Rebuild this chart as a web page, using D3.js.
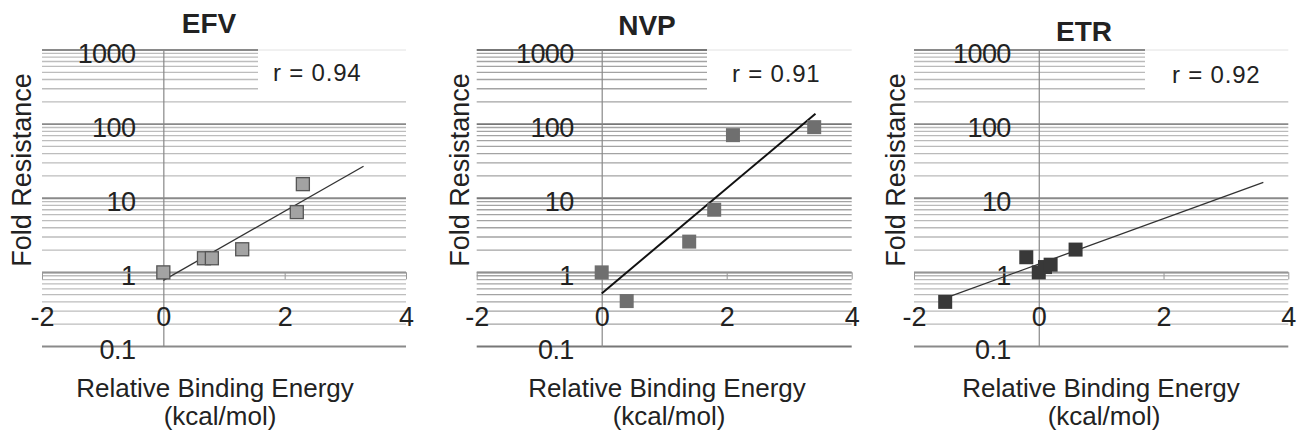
<!DOCTYPE html>
<html>
<head>
<meta charset="utf-8">
<script src="https://cdn.jsdelivr.net/npm/d3@7"></script>
<style>
  body { margin: 0; background: #fff; }
  text { font-family: "Liberation Sans", Arial, sans-serif; fill: #222; }
</style>
</head>
<body>
<script>
// Data
const drugs = ["EFV", "NVP", "ETR"];
const rValues = ["0.94", "0.91", "0.92"];

const efvEnergy = [0, 0.67, 0.8, 1.3, 2.2, 2.3];
const efvFold = [1, 1.55, 1.55, 2.05, 6.5, 15.5];
const nvpEnergy = [0, 0.4, 1.4, 1.8, 2.1, 3.4];
const nvpFold = [1, 0.41, 2.6, 7.0, 71, 91];
const etrEnergy = [-1.5, -0.2, 0, 0.1, 0.19, 0.59];
const etrFold = [0.4, 1.6, 1.0, 1.18, 1.27, 2.03];

// regression line end points (energy, fold)
const efvFitX = [0, 3.3], efvFitY = [0.78, 27];
const nvpFitX = [0, 3.42], nvpFitY = [0.52, 138];
const etrFitX = [-1.5, 3.6], etrFitY = [0.45, 16.4];

const xTicks = [-2, 0, 2, 4];
const yTicks = [0.1, 1, 10, 100, 1000];

const width = 1304, height = 436;

const svg = d3.select("body").append("svg")
  .attr("width", width)
  .attr("height", height);

// panel layout and styling
const panels = [
  { x0: 42, x1: 406, boxLeft: 258, yTitleX: 22, xTitleX: 215, unitX: 220, titleX: 209, titleY: 33, rX: 273, rY: 81,
    energy: efvEnergy, fold: efvFold, fitX: efvFitX, fitY: efvFitY,
    fill: "#a3a3a3", stroke: "#555", size: 13, lineColor: "#333", lineWidth: 1.3, minor: "#bdbdbd", major: "#8a8a8a" },
  { x0: 476.7, x1: 851.7, boxLeft: 707, yTitleX: 460, xTitleX: 667, unitX: 669, titleX: 647, titleY: 35, rX: 732, rY: 82,
    energy: nvpEnergy, fold: nvpFold, fitX: nvpFitX, fitY: nvpFitY,
    fill: "#6f6f6f", stroke: "none", size: 14, lineColor: "#111", lineWidth: 2, minor: "#a3a3a3", major: "#777" },
  { x0: 914, x1: 1288.3, boxLeft: 1145, yTitleX: 896, xTitleX: 1101, unitX: 1104, titleX: 1084, titleY: 41, rX: 1172, rY: 83,
    energy: etrEnergy, fold: etrFold, fitX: etrFitX, fitY: etrFitY,
    fill: "#383838", stroke: "none", size: 14, lineColor: "#333", lineWidth: 1.3, minor: "#bababa", major: "#8a8a8a" }
];

const yTop = 50, yBottom = 346.5;

panels.forEach((p, i) => {
  const g = svg.append("g");

  const x = d3.scaleLinear().domain([-2, 4]).range([p.x0, p.x1]);
  const y = d3.scaleLog().domain([0.1, 1000]).range([yBottom, yTop]);

  // gridlines, minor then major
  const all = y.ticks();
  const majors = all.filter(d => yTicks.some(t => Math.abs(t - d) < 1e-9));
  const minors = all.filter(d => !majors.includes(d));

  g.selectAll(".minor")
    .data(minors)
    .enter().append("line")
    .attr("x1", p.x0).attr("x2", p.x1)
    .attr("y1", d => y(d)).attr("y2", d => y(d))
    .attr("stroke", p.minor)
    .attr("stroke-width", 1.3);

  g.selectAll(".major")
    .data(majors)
    .enter().append("line")
    .attr("x1", p.x0).attr("x2", p.x1)
    .attr("y1", d => y(d)).attr("y2", d => y(d))
    .attr("stroke", p.major)
    .attr("stroke-width", 1.8);

  // white box holding the r value
  g.append("rect")
    .attr("x", p.boxLeft).attr("y", yTop - 2)
    .attr("width", p.x1 - p.boxLeft + 1).attr("height", 44)
    .attr("fill", "#fff");
  g.append("line")
    .attr("x1", p.boxLeft).attr("x2", p.x1)
    .attr("y1", yTop).attr("y2", yTop)
    .attr("stroke", "#e2e2e2");

  g.append("text")
    .attr("x", p.rX).attr("y", p.rY)
    .attr("font-size", 24)
    .attr("letter-spacing", 0.8)
    .text("r = " + rValues[i]);

  // y axis through x = 0
  const yAxis = g.append("g")
    .attr("transform", `translate(${x(0)},0)`)
    .call(d3.axisLeft(y).tickValues(yTicks).tickFormat(d => d)
      .tickSizeInner(0).tickSizeOuter(0).tickPadding(28));
  yAxis.select(".domain").attr("stroke", "#888").attr("stroke-width", 1.2);
  yAxis.selectAll("text")
    .attr("font-size", 27)
    .attr("letter-spacing", -0.6)
    .attr("dy", "0.45em")
    .style("font-family", "'Liberation Sans', Arial, sans-serif")
    .attr("fill", "#222");

  // x axis crossing at fold = 1
  const xAxis = g.append("g")
    .attr("transform", `translate(0,${y(1)})`)
    .call(d3.axisBottom(x).tickValues(xTicks).tickSizeInner(7).tickSizeOuter(0).tickPadding(27));
  xAxis.select(".domain").attr("stroke", "#999").attr("stroke-width", 1.2);
  xAxis.selectAll(".tick line").attr("stroke", "#999");
  xAxis.selectAll("text")
    .attr("font-size", 27)
    .style("font-family", "'Liberation Sans', Arial, sans-serif")
    .attr("fill", "#222")
    .text(d => d < 0 ? "-" + Math.abs(d) : d);

  // regression line
  const fit = p.fitX.map((v, k) => ({ e: v, f: p.fitY[k] }));
  g.append("path")
    .datum(fit)
    .attr("fill", "none")
    .attr("stroke", p.lineColor)
    .attr("stroke-width", p.lineWidth)
    .attr("d", d3.line().x(d => x(d.e)).y(d => y(d.f)));

  // square markers
  const pts = p.energy.map((v, k) => ({ e: v, f: p.fold[k] }));
  g.selectAll(".pt")
    .data(pts)
    .enter().append("rect")
    .attr("x", d => x(d.e) - p.size / 2)
    .attr("y", d => y(d.f) - p.size / 2)
    .attr("width", p.size).attr("height", p.size)
    .attr("fill", p.fill)
    .attr("stroke", p.stroke)
    .attr("stroke-width", 1.3);

  // titles
  g.append("text")
    .attr("x", p.titleX).attr("y", p.titleY)
    .attr("text-anchor", "middle")
    .attr("font-size", 28)
    .attr("font-weight", "bold")
    .text(drugs[i]);

  g.append("text")
    .attr("transform", `translate(${p.yTitleX + 9},170) rotate(-90)`)
    .attr("text-anchor", "middle")
    .attr("font-size", 27)
    .text("Fold Resistance");

  g.append("text")
    .attr("x", p.xTitleX).attr("y", 397)
    .attr("text-anchor", "middle")
    .attr("font-size", 26)
    .text("Relative Binding Energy");

  g.append("text")
    .attr("x", p.unitX).attr("y", 425)
    .attr("text-anchor", "middle")
    .attr("font-size", 26)
    .text("(kcal/mol)");
});
</script>
</body>
</html>
